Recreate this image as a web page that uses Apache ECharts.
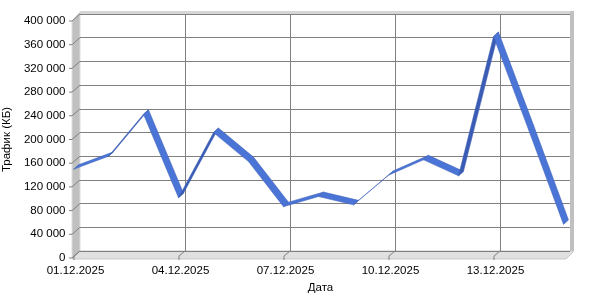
<!DOCTYPE html>
<html>
<head>
<meta charset="utf-8">
<script src="https://cdn.jsdelivr.net/npm/echarts@6/dist/echarts.min.js"></script>
<style>html,body{margin:0;padding:0;background:#fff}#c{width:600px;height:300px}</style>
</head>
<body>
<div id="c"></div>
<script>
const categories = ['01.12.2025','02.12.2025','03.12.2025','04.12.2025','05.12.2025','06.12.2025','07.12.2025','08.12.2025','09.12.2025','10.12.2025','11.12.2025','12.12.2025','13.12.2025','14.12.2025','15.12.2025'];
const traffic = [148000, 170000, 241000, 100000, 210000, 161000, 85000, 102000, 88000, 138000, 164000, 137000, 372000, 215000, 55000];
const yTicks = [0, 40000, 80000, 120000, 160000, 200000, 240000, 280000, 320000, 360000, 400000];
const yName = 'Трафик (КБ)';
const xName = 'Дата';

const FONT = '"Liberation Sans", Arial, sans-serif';
const FS = 11.5;
const BL = 80, BR = 570, BT = 14, BB = 251;   // back wall
const DX = -8, DY = 7;                          // depth offset (back -> front)

const fmt = v => String(v).replace(/\B(?=(\d{3})+(?!\d))/g, ' ');

const segs = [];
for (let i = 0; i < traffic.length - 1; i++) segs.push([i, traffic[i], traffic[i + 1]]);

const chart = echarts.init(document.getElementById('c'), null, {renderer: 'canvas'});

const option = {
  animation: false,
  backgroundColor: '#fff',
  grid: [
    {left: BL, right: 600 - BR, top: BT, bottom: 300 - BB, containLabel: false, outerBoundsMode: 'none'},
    {left: BL - 4.5, right: 600 - BR + 4.5, top: BT + DY, bottom: 300 - BB - DY, containLabel: false, outerBoundsMode: 'none'}
  ],
  xAxis: [
    {gridIndex: 0, type: 'category', data: categories, boundaryGap: false,
     axisLine: {show: false}, axisTick: {show: false}, axisLabel: {show: false},
     splitLine: {show: true, interval: (i) => i % 3 === 0 && i > 0, lineStyle: {color: '#808080', width: 1}}},
    {gridIndex: 1, type: 'category', data: categories, boundaryGap: false,
     axisLine: {show: false}, axisTick: {show: false}, splitLine: {show: false},
     axisLabel: {interval: 2, color: '#000', fontFamily: FONT, fontSize: FS, margin: 7},
     name: xName, nameLocation: 'middle', nameGap: 23,
     nameTextStyle: {color: '#000', fontFamily: FONT, fontSize: FS}}
  ],
  yAxis: [
    {gridIndex: 0, type: 'value', min: 0, max: 400000, interval: 40000,
     axisLine: {show: false}, axisTick: {show: false}, axisLabel: {show: false},
     splitLine: {show: true, lineStyle: {color: '#808080', width: 1}}},
    {gridIndex: 1, type: 'value', min: 0, max: 400000, interval: 40000,
     axisLine: {show: false}, axisTick: {show: false}, splitLine: {show: false},
     axisLabel: {color: '#000', fontFamily: FONT, fontSize: FS, margin: 10, formatter: fmt},
     name: yName, nameLocation: 'middle', nameGap: 63,
     nameTextStyle: {color: '#000', fontFamily: FONT, fontSize: FS}}
  ],
  series: [{
    type: 'custom',
    xAxisIndex: 0, yAxisIndex: 0,
    data: segs,
    encode: {x: 0, y: [1, 2]},
    z: 5,
    renderItem: function (params, api) {
      const i = api.value(0);
      const a = api.coord([i, api.value(1)]);
      const b = api.coord([i + 1, api.value(2)]);
      const B = [-1.5, 1.5], F = [-6.5, 6];
      const pts = [
        [a[0] + B[0], a[1] + B[1]], [b[0] + B[0], b[1] + B[1]],
        [b[0] + F[0], b[1] + F[1]], [a[0] + F[0], a[1] + F[1]]
      ];
      const ux = b[0] - a[0], uy = b[1] - a[1];
      const cross = ux * (F[1] - B[1]) - uy * (F[0] - B[0]);
      const col = cross >= 0 ? '#4a75d6' : '#3a5cb4';
      return {type: 'polygon', shape: {points: pts},
              style: {fill: col, stroke: '#3a5cb4', lineWidth: 0.5}};
    }
  }]
};
chart.setOption(option);

// 3D walls and wall ticks, positioned from the library's axes
const g = [];
g.push({type: 'polygon', z: -10, shape: {points: [[BL, BT - 2], [BL, BB], [BL + DX, BB + DY], [BL + DX, BT + DY]]},
        style: {fill: '#c0c0c0', stroke: '#dcdcdc', lineWidth: 1}});
g.push({type: 'rect', z: -10, shape: {x: BL, y: BT - 3, width: BR - BL + 4, height: 3},
        style: {fill: '#d6d6d6'}});
g.push({type: 'rect', z: -10, shape: {x: BR, y: BT - 3, width: 4, height: BB - BT + 3},
        style: {fill: '#c0c0c0'}});
g.push({type: 'polygon', z: -10, shape: {points: [[BL, BB], [BR + 4, BB], [BR - 4, BB + DY + 1], [BL + DX, BB + DY + 1]]},
        style: {fill: '#e0e0e0', stroke: '#c8c8c8', lineWidth: 1}});
yTicks.forEach(v => {
  const y = chart.convertToPixel({yAxisIndex: 0}, v);
  g.push({type: 'polyline', z: -5, shape: {points: [[BL, y], [BL + DX, y + DY], [BL + DX - 3, y + DY]]},
          style: {stroke: '#808080', lineWidth: 1, fill: null}});
});
categories.forEach((c, i) => {
  if (i % 3 !== 0) return;
  const x = chart.convertToPixel({xAxisIndex: 0}, c);
  g.push({type: 'polyline', z: -5, shape: {points: [[x, BB], [x - 6, BB + 5], [x - 6, BB + 9]]},
          style: {stroke: '#808080', lineWidth: 1, fill: null}});
});
chart.setOption({graphic: {elements: g}});
</script>
</body>
</html>
